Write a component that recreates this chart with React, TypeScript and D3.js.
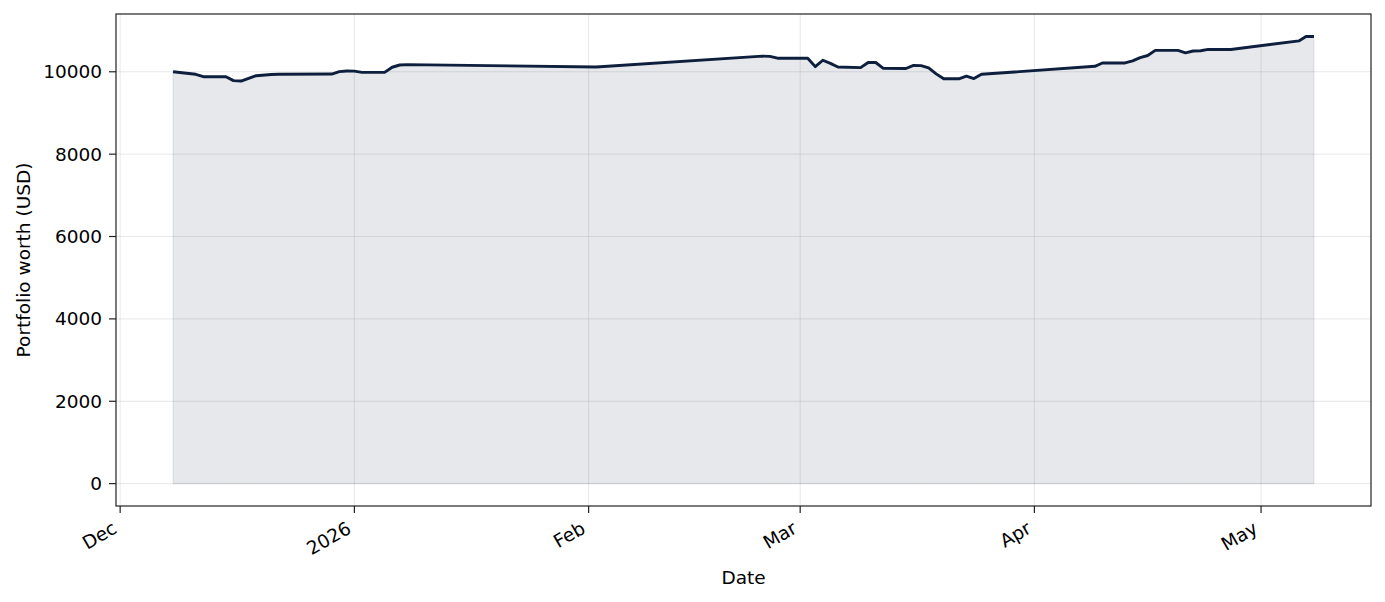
import * as d3 from 'd3';
import * as React from 'react';

const width = 1385;
const height = 602;
const margin = { top: 14, right: 14, bottom: 96, left: 116 };

// portfolio value readings (UTC dates)
const dates = [
  '2025-12-08', '2025-12-11', '2025-12-12', '2025-12-15', '2025-12-16', '2025-12-17',
  '2025-12-19', '2025-12-21', '2025-12-22', '2025-12-29', '2025-12-30', '2025-12-31',
  '2026-01-01', '2026-01-02', '2026-01-05', '2026-01-06', '2026-01-07', '2026-01-08',
  '2026-02-02', '2026-02-24', '2026-02-25', '2026-02-26', '2026-03-02', '2026-03-03',
  '2026-03-04', '2026-03-05', '2026-03-06', '2026-03-09', '2026-03-10', '2026-03-11',
  '2026-03-12', '2026-03-15', '2026-03-16', '2026-03-17', '2026-03-18', '2026-03-19',
  '2026-03-20', '2026-03-22', '2026-03-23', '2026-03-24', '2026-03-25', '2026-04-09',
  '2026-04-10', '2026-04-13', '2026-04-14', '2026-04-15', '2026-04-16', '2026-04-17',
  '2026-04-20', '2026-04-21', '2026-04-22', '2026-04-23', '2026-04-24', '2026-04-27',
  '2026-05-06', '2026-05-07', '2026-05-08',
];

const values = [
  10000, 9940, 9880, 9880, 9785, 9775,
  9905, 9935, 9940, 9945, 10005, 10020,
  10015, 9985, 9985, 10110, 10165, 10175,
  10117, 10380, 10375, 10330, 10330, 10125,
  10280, 10205, 10115, 10100, 10225, 10225,
  10085, 10080, 10155, 10150, 10095, 9950,
  9830, 9830, 9895, 9835, 9940, 10133,
  10214, 10214, 10265, 10345, 10395, 10520,
  10520, 10460, 10505, 10510, 10545, 10540,
  10750, 10860, 10855,
];

const xTickDates = ['2025-12-01', '2026-01-01', '2026-02-01', '2026-03-01', '2026-04-01', '2026-05-01'];
const xTickLabels = ['Dec', '2026', 'Feb', 'Mar', 'Apr', 'May'];
const yTicks = [0, 2000, 4000, 6000, 8000, 10000];

const lineColor = '#0d1f3c';
const font = '"DejaVu Sans", sans-serif';
const fontSize = 18.5;

type Point = { date: Date; value: number };

const parse = d3.utcParse('%Y-%m-%d');
const data: Point[] = dates.map((d, i) => ({ date: parse(d) as Date, value: values[i] }));

export default () => {
  const x0 = data[0].date.getTime();
  const x1 = data[data.length - 1].date.getTime();
  const xPad = (x1 - x0) * 0.05;

  const x = d3
    .scaleUtc()
    .domain([new Date(x0 - xPad), new Date(x1 + xPad)])
    .range([margin.left, width - margin.right]);

  const yMax = d3.max(values) as number;
  const yPad = yMax * 0.05;

  const y = d3
    .scaleLinear()
    .domain([-yPad, yMax + yPad])
    .range([height - margin.bottom, margin.top]);

  const line = d3
    .line<Point>()
    .x(d => x(d.date))
    .y(d => y(d.value));

  const area = d3
    .area<Point>()
    .x(d => x(d.date))
    .y0(y(0))
    .y1(d => y(d.value));

  const left = margin.left;
  const right = width - margin.right;
  const top = margin.top;
  const bottom = height - margin.bottom;

  return (
    <svg
      width={width}
      height={height}
      style={{ position: 'absolute', left: 0, top: 0, background: '#fff' }}
      fontFamily={font}
      fontSize={fontSize}
    >
      {/* grid */}
      <g stroke="#b0b0b0" strokeOpacity={0.3} strokeWidth={1}>
        {xTickDates.map(d => (
          <line key={d} x1={x(parse(d) as Date)} x2={x(parse(d) as Date)} y1={top} y2={bottom} />
        ))}
        {yTicks.map(t => (
          <line key={t} x1={left} x2={right} y1={y(t)} y2={y(t)} />
        ))}
      </g>

      <path
        d={area(data) as string}
        fill={lineColor}
        fillOpacity={0.1}
        stroke={lineColor}
        strokeOpacity={0.1}
        strokeWidth={1}
      />
      <path
        d={line(data) as string}
        fill="none"
        stroke={lineColor}
        strokeWidth={2.9}
        strokeLinejoin="round"
        strokeLinecap="butt"
      />

      {/* spines */}
      <rect x={left} y={top} width={right - left} height={bottom - top} fill="none" stroke="#222" strokeWidth={1.2} />

      {/* y axis */}
      <g>
        {yTicks.map(t => (
          <g key={t} transform={`translate(${left},${y(t)})`}>
            <line x1={-7} x2={0} stroke="#222" strokeWidth={1.2} />
            <text x={-14} dy="0.35em" textAnchor="end" fill="#000">
              {t}
            </text>
          </g>
        ))}
      </g>

      {/* x axis */}
      <g>
        {xTickDates.map((d, i) => {
          const tx = x(parse(d) as Date);
          return (
            <g key={d}>
              <line x1={tx} x2={tx} y1={bottom} y2={bottom + 7} stroke="#222" strokeWidth={1.2} />
              <text
                transform={`translate(${tx - 2},${bottom + 26}) rotate(-30)`}
                textAnchor="end"
                fill="#000"
              >
                {xTickLabels[i]}
              </text>
            </g>
          );
        })}
      </g>

      <text x={(left + right) / 2} y={584} textAnchor="middle" fill="#000">
        Date
      </text>
      <text
        transform={`translate(29.5,${(top + bottom) / 2}) rotate(-90)`}
        textAnchor="middle"
        fill="#000"
      >
        Portfolio worth (USD)
      </text>
    </svg>
  );
};
